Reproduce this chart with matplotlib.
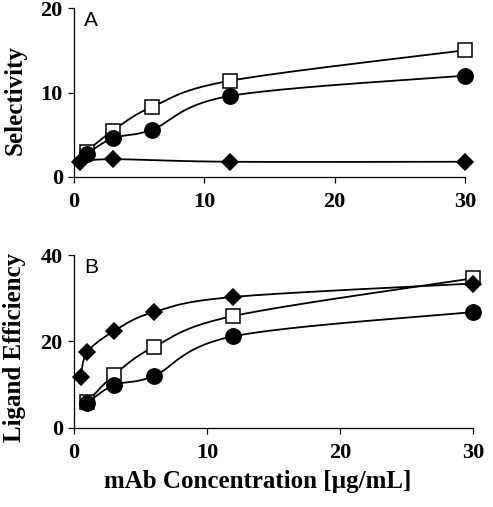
import numpy as np
import matplotlib
matplotlib.use("Agg")
import matplotlib.pyplot as plt

# mAb concentration [ug/mL]
conc = [0.5, 1, 3, 6, 12, 30]

# Panel A - selectivity
sel_square = [1.8, 3.0, 5.5, 8.3, 11.4, 15.0]
sel_circle = [1.8, 2.7, 4.6, 5.6, 9.6, 12.0]
conc_sel_diamond = [0.5, 3, 12, 30]
sel_diamond = [1.8, 2.1, 1.8, 1.8]

# Panel B - ligand efficiency
conc_b = [1, 3, 6, 12, 30]
le_square = [6.0, 12.2, 18.7, 25.9, 34.6]
le_circle = [5.8, 9.9, 12.0, 21.2, 26.8]
le_diamond = [11.8, 17.5, 22.4, 26.8, 30.3, 33.4]


def smooth(x, y, sx, sy, n=40):
    # excel style smoothed line, computed in (scaled) screen space
    x = np.asarray(x, float) * sx
    y = np.asarray(y, float) * sy
    px, py = [], []
    for i in range(len(x) - 1):
        x0, y0 = (x[i - 1], y[i - 1]) if i > 0 else (x[i], y[i])
        x3, y3 = (x[i + 2], y[i + 2]) if i + 2 < len(x) else (x[i + 1], y[i + 1])
        c1x = x[i] + (x[i + 1] - x0) / 6
        c1y = y[i] + (y[i + 1] - y0) / 6
        c2x = x[i + 1] - (x3 - x[i]) / 6
        c2y = y[i + 1] - (y3 - y[i]) / 6
        t = np.linspace(0, 1, n)
        px.append((1-t)**3*x[i] + 3*(1-t)**2*t*c1x + 3*(1-t)*t**2*c2x + t**3*x[i+1])
        py.append((1-t)**3*y[i] + 3*(1-t)**2*t*c1y + 3*(1-t)*t**2*c2y + t**3*y[i+1])
    return np.concatenate(px) / sx, np.concatenate(py) / sy


serif = "Liberation Serif"
sans = "Liberation Sans"

fig = plt.figure(figsize=(4.93, 5.07), dpi=100)
axA = fig.add_axes([0.150, 0.651, 0.793, 0.333])
axB = fig.add_axes([0.150, 0.156, 0.809, 0.341])


def style(ax, ymax, ystep):
    ax.set_xlim(0, 30)
    ax.set_ylim(0, ymax)
    ax.set_xticks([0, 10, 20, 30])
    ax.set_yticks(np.arange(0, ymax + 1, ystep))
    for s in ["top", "right"]:
        ax.spines[s].set_visible(False)
    for s in ["left", "bottom"]:
        ax.spines[s].set_linewidth(0.9)
    ax.tick_params(direction="out", length=4, width=0.9)
    ax.tick_params(axis="x", pad=7)
    ax.tick_params(axis="y", pad=4)
    for lab in ax.get_xticklabels() + ax.get_yticklabels():
        lab.set_fontfamily(serif)
        lab.set_fontweight("bold")
        lab.set_fontsize(16)


def series(ax, x, y, marker, face, ms, ymax, z, every=None):
    sx, sy = smooth(x, y, 391 / 30, 172 / ymax)
    ax.plot(sx, sy, color="black", lw=1.3, zorder=2, clip_on=False)
    ax.plot(x, y, ls="none", marker=marker, ms=ms, mfc=face, mec="black",
            mew=1.1, zorder=z, clip_on=False, markevery=every)


# panel A (first point of square/circle sits under the diamond)
series(axA, conc, sel_square, "s", "white", 10.5, 20, 3, every=slice(1, None))
series(axA, conc, sel_circle, "o", "black", 11, 20, 4, every=slice(1, None))
series(axA, conc_sel_diamond, sel_diamond, "D", "black", 8.5, 20, 5)
style(axA, 20, 10)
axA.set_ylabel("Selectivity", fontfamily=serif, fontweight="bold", fontsize=18)
axA.yaxis.label.set_va("center")
axA.yaxis.set_label_coords(-0.151, 0.456)
axA.text(0.025, 0.985, "A", transform=axA.transAxes, fontfamily=sans, fontsize=15,
         va="top", ha="left")

# panel B
series(axB, conc_b, le_square, "s", "white", 10.5, 40, 3)
series(axB, conc_b, le_circle, "o", "black", 11, 40, 4)
series(axB, conc, le_diamond, "D", "black", 8.5, 40, 5)
style(axB, 40, 20)
axB.set_ylabel("Ligand Efficiency", fontfamily=serif, fontweight="bold", fontsize=18)
axB.yaxis.label.set_va("center")
axB.yaxis.set_label_coords(-0.150, 0.468)
axB.set_xlabel("mAb Concentration [\u00b5g/mL]", fontfamily=serif, fontweight="bold",
               fontsize=18)
axB.xaxis.set_label_coords(0.461, -0.243)
axB.text(0.025, 0.985, "B", transform=axB.transAxes, fontfamily=sans, fontsize=15,
         va="top", ha="left")

fig.savefig("out.png", dpi=100)
